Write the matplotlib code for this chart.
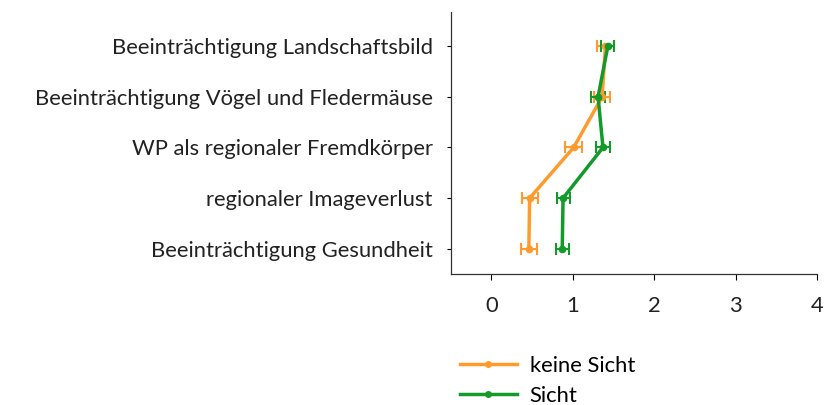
import matplotlib
matplotlib.use("Agg")
import matplotlib.pyplot as plt
import numpy as np
from matplotlib.lines import Line2D

plt.rcParams['font.family'] = ['Lato', 'DejaVu Sans']

categories = ["Beeinträchtigung Gesundheit", "regionaler Imageverlust",
              "WP als regionaler Fremdkörper", "Beeinträchtigung Vögel und Fledermäuse",
              "Beeinträchtigung Landschaftsbild"]
keine_sicht = [0.46, 0.47, 1.01, 1.36, 1.40]
keine_sicht_err = [0.10, 0.10, 0.10, 0.10, 0.10]
sicht = [0.87, 0.88, 1.37, 1.31, 1.43]
sicht_err = [0.08, 0.08, 0.09, 0.09, 0.08]
xticks = [0, 1, 2, 3, 4]
series_labels = ['keine Sicht', 'Sicht']

orange = '#FF9A2E'
green = '#149A2A'

fig = plt.figure(figsize=(8.33, 4.05), dpi=100)
ax = fig.add_axes([0.541, 0.323, 0.44, 0.647])

y = np.arange(len(categories))
ax.errorbar(keine_sicht, y, xerr=keine_sicht_err, color=orange, lw=2.5, marker='o', ms=4.5,
            capsize=4, elinewidth=1.5, capthick=1.5)
ax.errorbar(sicht, y, xerr=sicht_err, color=green, lw=2.5, marker='o', ms=4.5,
            capsize=4, elinewidth=1.5, capthick=1.5)

ax.set_xlim(-0.5, 4)
ax.set_ylim(-0.5, 4.67)
ax.set_yticks(y)
ax.set_yticklabels(categories, fontsize=15.8, color='#222222')
ax.set_xticks(xticks)
ax.set_xticklabels([str(t) for t in xticks], fontsize=15.8, color='#222222')
ax.tick_params(axis='x', length=4, width=0.8, pad=12)
ax.tick_params(axis='y', length=3, width=0.8, pad=10)
for s in ['top', 'right']:
    ax.spines[s].set_visible(False)
for s in ['left', 'bottom']:
    ax.spines[s].set_linewidth(0.9)
    ax.spines[s].set_color('#333333')

h = [Line2D([], [], color=orange, lw=2.5, marker='o', ms=4),
     Line2D([], [], color=green, lw=2.5, marker='o', ms=4)]
fig.legend(h, series_labels, loc='center left', bbox_to_anchor=(0.528, 0.06), frameon=False,
           fontsize=15.8, handlelength=2.6, handletextpad=0.6, labelspacing=0.45)

fig.savefig('out.png', dpi=100)
